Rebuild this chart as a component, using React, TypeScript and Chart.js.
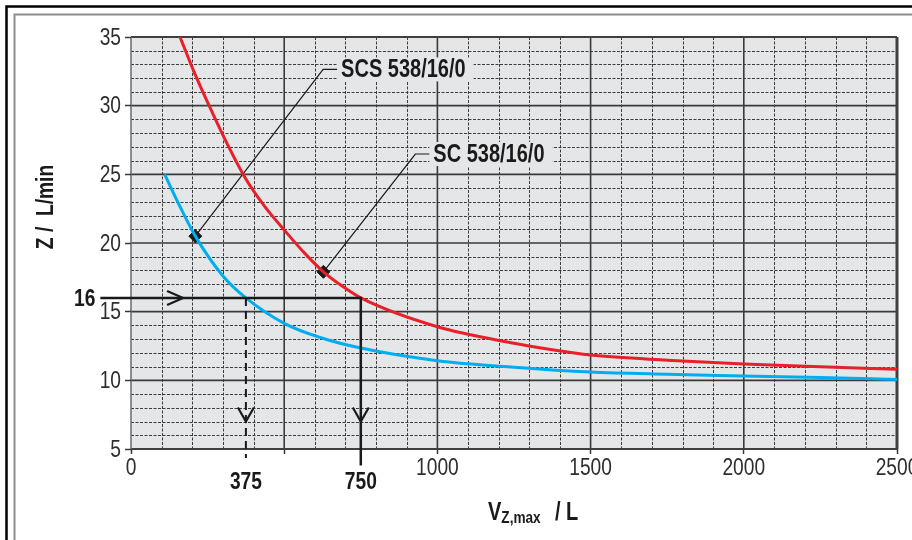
import React, { useEffect, useRef } from "react";
import { Chart, registerables } from "chart.js";

Chart.register(...registerables);

// ---- data ----
const scVolume = [160, 205, 255, 310, 370, 435, 500, 565, 628, 690, 750, 1000, 1250, 1375, 1500, 1750, 2000, 2250, 2500];
const scRate = [35, 32.5, 30, 27.4, 24.85, 22.7, 20.95, 19.3, 17.9, 16.85, 16, 13.9, 12.7, 12.22, 11.84, 11.47, 11.19, 10.99, 10.8];
const scsVolume = [110, 150, 210, 300, 375, 500, 620, 750, 1000, 1250, 1500, 1750, 2000, 2250, 2500];
const scsRate = [25, 23.1, 20.5, 17.6, 16, 14.15, 13.1, 12.35, 11.43, 10.95, 10.6, 10.44, 10.32, 10.2, 10.06];

const seriesNames = ["SC 538/16/0", "SCS 538/16/0"];
const markerVolume = [628, 210];
const markerRate = [17.9, 20.5];
// end of each leader line, where the label starts
const labelVolume = [928, 627];
const labelRate = [26.48, 32.64];

const xTickValues = [0, 500, 1000, 1500, 2000, 2500];
const xTickLabels = ["0", "", "1000", "1500", "2000", "2500"];
const yTickValues = [5, 10, 15, 20, 25, 30, 35];

const exampleRate = 16;
const exampleVolumes = [375, 750];

const FONT = '"Liberation Sans", Arial, sans-serif';
const SX = 0.8; // horizontal squeeze to imitate a condensed face
const INK = "#1a1a1a";

function drawText(
  ctx: CanvasRenderingContext2D,
  text: string,
  x: number,
  y: number,
  font: string,
  align: CanvasTextAlign,
  baseline: CanvasTextBaseline,
  color = INK
) {
  ctx.save();
  ctx.font = font;
  ctx.fillStyle = color;
  ctx.textAlign = align;
  ctx.textBaseline = baseline;
  ctx.translate(x, y);
  ctx.scale(SX, 1);
  ctx.fillText(text, 0, 0);
  ctx.restore();
}

function textWidth(ctx: CanvasRenderingContext2D, text: string, font: string) {
  ctx.save();
  ctx.font = font;
  const w = ctx.measureText(text).width * SX;
  ctx.restore();
  return w;
}

const decorPlugin = {
  id: "decor",
  beforeDraw(chart: any) {
    const { ctx, chartArea: a, scales } = chart;
    const xs = scales.x;
    const ys = scales.y;
    ctx.save();
    ctx.fillStyle = "#ffffff";
    ctx.fillRect(0, 0, chart.width, chart.height);
    // outer frames (they run beyond the picture)
    ctx.strokeStyle = "#000";
    ctx.lineWidth = 2.5;
    ctx.strokeRect(6.5, 6.5, 1200, 1200);
    ctx.strokeStyle = "#8c8c8c";
    ctx.lineWidth = 2;
    ctx.strokeRect(14.5, 14.5, 1200, 1200);
    // plot background
    ctx.fillStyle = "#e5e6e8";
    ctx.fillRect(a.left, a.top, a.right - a.left, a.bottom - a.top);
    // minor grid
    ctx.strokeStyle = "#3c3c3c";
    ctx.lineWidth = 1;
    ctx.setLineDash([3, 1.5]);
    for (let v = xs.min + 100; v < xs.max; v += 100) {
      if (v % 500 === 0) continue;
      const px = Math.round(xs.getPixelForValue(v)) + 0.5;
      ctx.beginPath();
      ctx.moveTo(px, a.top);
      ctx.lineTo(px, a.bottom);
      ctx.stroke();
    }
    for (let v = ys.min + 1; v < ys.max; v += 1) {
      if (v % 5 === 0) continue;
      const py = Math.round(ys.getPixelForValue(v)) + 0.5;
      ctx.beginPath();
      ctx.moveTo(a.left, py);
      ctx.lineTo(a.right, py);
      ctx.stroke();
    }
    // major grid
    ctx.setLineDash([]);
    ctx.strokeStyle = "#3a3a3a";
    ctx.lineWidth = 1.6;
    for (let v = xs.min + 500; v < xs.max; v += 500) {
      const px = xs.getPixelForValue(v);
      ctx.beginPath();
      ctx.moveTo(px, a.top);
      ctx.lineTo(px, a.bottom);
      ctx.stroke();
    }
    for (let v = ys.min + 5; v < ys.max; v += 5) {
      const py = ys.getPixelForValue(v);
      ctx.beginPath();
      ctx.moveTo(a.left, py);
      ctx.lineTo(a.right, py);
      ctx.stroke();
    }
    // plot border
    ctx.strokeStyle = "#404040";
    ctx.lineWidth = 2;
    ctx.beginPath();
    ctx.moveTo(a.left, a.top);
    ctx.lineTo(a.right, a.top);
    ctx.moveTo(a.left, a.bottom);
    ctx.lineTo(a.right, a.bottom);
    ctx.stroke();
    ctx.lineWidth = 3;
    ctx.beginPath();
    ctx.moveTo(a.right, a.top);
    ctx.lineTo(a.right, a.bottom);
    ctx.stroke();
    ctx.strokeStyle = "#6a6a6a";
    ctx.lineWidth = 1.5;
    ctx.beginPath();
    ctx.moveTo(a.left, a.top);
    ctx.lineTo(a.left, a.bottom);
    ctx.stroke();

    // tick labels
    const tickFont = `24px ${FONT}`;
    xTickValues.forEach((v, i) => {
      drawText(ctx, xTickLabels[i], xs.getPixelForValue(v), 475, tickFont, "center", "alphabetic", "#2e2e2e");
    });
    yTickValues.forEach((v) => {
      drawText(ctx, String(v), 121, ys.getPixelForValue(v) + 1, tickFont, "right", "middle", "#2e2e2e");
    });

    // axis titles
    ctx.save();
    ctx.translate(46, 207);
    ctx.rotate(-Math.PI / 2);
    drawText(ctx, "Z /  L/min", 0, 0, `bold 24px ${FONT}`, "center", "middle");
    ctx.restore();

    const big = `bold 25px ${FONT}`;
    const small = `bold 17px ${FONT}`;
    drawText(ctx, "V", 488, 520, big, "left", "alphabetic");
    drawText(ctx, "Z,max", 488 + textWidth(ctx, "V", big), 523, small, "left", "alphabetic");
    drawText(ctx, "/ L", 555, 520, big, "left", "alphabetic");
    ctx.restore();
  },
  beforeDatasetsDraw(chart: any) {
    const { ctx, scales } = chart;
    const X = (v: number) => scales.x.getPixelForValue(v);
    const Y = (v: number) => scales.y.getPixelForValue(v);
    ctx.save();
    const labelFont = `bold 25px ${FONT}`;
    for (let i = 0; i < seriesNames.length; i++) {
      const mx = X(markerVolume[i]);
      const my = Y(markerRate[i]);
      const lx = X(labelVolume[i]);
      const ly = Y(labelRate[i]);
      const tw = textWidth(ctx, seriesNames[i], labelFont);
      const boxL = lx + 14;
      ctx.fillStyle = "#e5e6e8";
      ctx.fillRect(boxL, ly - 12, tw + 12, 24);
      ctx.strokeStyle = INK;
      ctx.lineWidth = 1.2;
      ctx.beginPath();
      ctx.moveTo(mx, my);
      ctx.lineTo(lx, ly);
      ctx.lineTo(boxL, ly);
      ctx.stroke();
      drawText(ctx, seriesNames[i], boxL + 4, ly + 1, labelFont, "left", "middle");
    }
    ctx.restore();
  },
  afterDatasetsDraw(chart: any) {
    const { ctx, scales } = chart;
    const X = (v: number) => scales.x.getPixelForValue(v);
    const Y = (v: number) => scales.y.getPixelForValue(v);
    ctx.save();
    ctx.strokeStyle = INK;
    ctx.lineCap = "butt";

    // example guide: Z = 16 -> V
    const y16 = Y(exampleRate);
    const xSolid = X(exampleVolumes[1]);
    const xDash = X(exampleVolumes[0]);
    ctx.lineWidth = 2.5;
    ctx.beginPath();
    ctx.moveTo(X(-100), y16);
    ctx.lineTo(xSolid, y16);
    ctx.lineTo(xSolid, Y(3.8));
    ctx.stroke();
    ctx.lineWidth = 2;
    ctx.setLineDash([8, 5]);
    ctx.beginPath();
    ctx.moveTo(xDash, y16);
    ctx.lineTo(xDash, Y(4.35));
    ctx.stroke();
    ctx.setLineDash([]);
    // chevrons
    ctx.lineWidth = 2.2;
    const tipX = X(170);
    ctx.beginPath();
    ctx.moveTo(tipX - 16, y16 - 7);
    ctx.lineTo(tipX, y16);
    ctx.lineTo(tipX - 16, y16 + 7);
    ctx.stroke();
    const tipY = Y(7);
    for (const xp of [xDash, xSolid]) {
      ctx.beginPath();
      ctx.moveTo(xp - 8, tipY - 14);
      ctx.lineTo(xp, tipY);
      ctx.lineTo(xp + 8, tipY - 14);
      ctx.stroke();
    }
    // guide labels
    const gFont = `bold 24px ${FONT}`;
    drawText(ctx, String(exampleRate), X(-116), y16 + 1, gFont, "right", "middle");
    drawText(ctx, String(exampleVolumes[0]), xDash, 489, gFont, "center", "alphabetic");
    drawText(ctx, String(exampleVolumes[1]), xSolid, 489, gFont, "center", "alphabetic");
    ctx.restore();
  },
};

export default function App() {
  const ref = useRef<HTMLCanvasElement>(null);
  useEffect(() => {
    document.body.style.margin = "0";
    const canvas = ref.current!;
    const chart = new Chart(canvas, {
      type: "scatter",
      data: {
        datasets: [
          {
            label: seriesNames[0],
            data: scVolume.map((v, i) => ({ x: v, y: scRate[i] })),
            showLine: true,
            borderColor: "#e8202a",
            borderWidth: 3,
            pointRadius: 0,
            cubicInterpolationMode: "monotone",
          },
          {
            label: seriesNames[1],
            data: scsVolume.map((v, i) => ({ x: v, y: scsRate[i] })),
            showLine: true,
            borderColor: "#00aeef",
            borderWidth: 3,
            pointRadius: 0,
            cubicInterpolationMode: "monotone",
          },
          {
            label: "markers",
            data: markerVolume.map((v, i) => ({ x: v, y: markerRate[i] })),
            showLine: false,
            pointStyle: "rectRot",
            pointRadius: 6.5,
            backgroundColor: INK,
            borderColor: INK,
            borderWidth: 1,
          },
        ],
      },
      options: {
        animation: false,
        responsive: false,
        events: [],
        layout: { padding: { left: 0, top: 37, right: 15, bottom: 0 } },
        plugins: { legend: { display: false }, tooltip: { enabled: false } },
        scales: {
          x: {
            type: "linear",
            min: 0,
            max: 2500,
            afterFit: (s: any) => {
              s.height = 91;
            },
            afterBuildTicks: (s: any) => {
              s.ticks = xTickValues.map((v) => ({ value: v }));
            },
            border: { display: false },
            grid: {
              drawOnChartArea: false,
              drawTicks: true,
              tickLength: 5,
              tickColor: "#3a3a3a",
              tickWidth: 1.5,
            },
            ticks: { display: false },
          },
          y: {
            type: "linear",
            min: 5,
            max: 35,
            afterFit: (s: any) => {
              s.width = 131;
            },
            afterBuildTicks: (s: any) => {
              s.ticks = yTickValues.map((v) => ({ value: v }));
            },
            border: { display: false },
            grid: {
              drawOnChartArea: false,
              drawTicks: true,
              tickLength: 6,
              tickColor: "#3a3a3a",
              tickWidth: 1.5,
            },
            ticks: { display: false },
          },
        },
      },
      plugins: [decorPlugin],
    } as any);
    return () => chart.destroy();
  }, []);
  return (
    <div style={{ position: "fixed", left: 0, top: 0, width: 912, height: 540 }}>
      <canvas ref={ref} width={912} height={540} style={{ width: 912, height: 540, display: "block" }} />
    </div>
  );
}
